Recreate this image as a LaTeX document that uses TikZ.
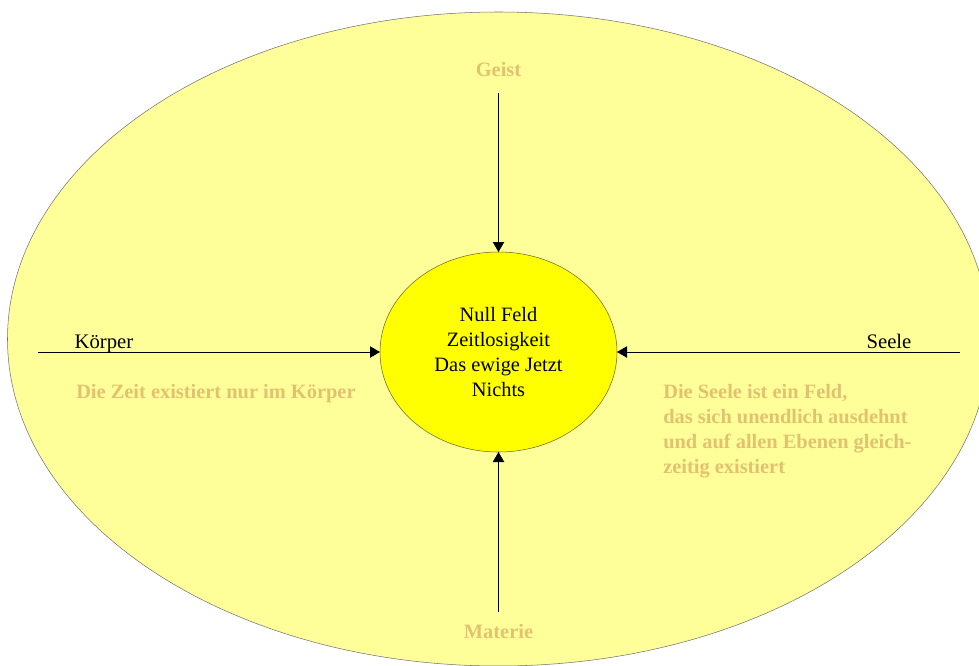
\documentclass[tikz,border=0pt]{standalone}
\usepackage{fontspec}
\setmainfont{Liberation Serif}
\usetikzlibrary{shapes.geometric,arrows.meta}
\definecolor{fieldyellow}{RGB}{255,255,153}
\definecolor{coreyellow}{RGB}{255,255,0}
\definecolor{labeltan}{RGB}{226,194,112}
\definecolor{coreline}{RGB}{110,105,40}

\begin{document}
\begin{tikzpicture}[
            x=0.75pt, y=-0.75pt,
            field/.style={ellipse, draw=black!55, fill=fieldyellow, minimum width=736.5pt, minimum height=490.5pt, inner sep=0pt, outer sep=0pt},
            core/.style={ellipse, draw=coreline, fill=coreyellow, minimum width=177.75pt, minimum height=150pt, inner sep=0pt, outer sep=0pt, align=center, font=\fontsize{15.3}{18.75}\selectfont},
            arrow/.style={-{Triangle[length=7.5pt,width=8.5pt]}, line width=0.75pt},
            pole/.style={font=\bfseries\fontsize{15.3}{18.75}\selectfont, text=labeltan, anchor=base},
            side/.style={font=\fontsize{15.5}{18.75}\selectfont, anchor=base},
            note/.style={font=\bfseries\fontsize{15.3}{18.75}\selectfont, text=labeltan, align=left, anchor=base west, inner sep=0pt}
            ]
            \useasboundingbox (0,0) rectangle (979,665);
            \clip (0,0) rectangle (979,665);

            % Outer field and centre
            \node[field] (feld) at (498.5,339) {};
            \node[core] (nullfeld) at (498.5,352) {Null Feld\\Zeitlosigkeit\\Das ewige Jetzt\\Nichts};

            % Labels
            \node[pole] (geist) at (498.5,76) {Geist};
            \node[pole] (materie) at (498.5,638) {Materie};
            \node[side] (koerper) at (104,348) {Körper};
            \node[side] (seele) at (889,348) {Seele};
            \node[note] (zeit) at (76,398) {Die Zeit existiert nur im Körper};
            \node[note] (feldtext) at (663,473) {Die Seele ist ein Feld,\\das sich unendlich  ausdehnt\\und auf allen Ebenen gleich-\\zeitig existiert};

            % Arrow starts
            \coordinate (geist-start) at (498.5,93);
            \coordinate (materie-start) at (498.5,612);
            \coordinate (koerper-start) at (38,352);
            \coordinate (seele-start) at (960,352);

            % Arrows
            \draw[arrow] (geist-start) -- (nullfeld.north);
            \draw[arrow] (materie-start) -- (nullfeld.south);
            \draw[arrow] (koerper-start) -- (nullfeld.west);
            \draw[arrow] (seele-start) -- (nullfeld.east);

        \end{tikzpicture}
\end{document}
